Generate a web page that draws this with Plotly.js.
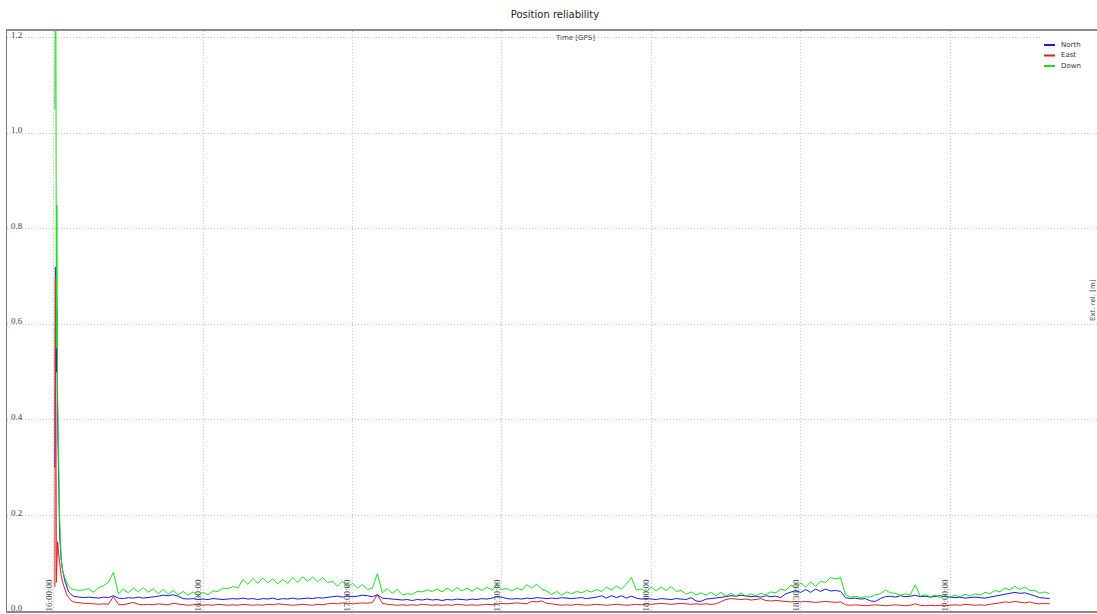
<!DOCTYPE html>
<html>
<head>
<meta charset="utf-8">
<script src="https://cdn.plot.ly/plotly-3.0.1.min.js"></script>
<style>html,body{margin:0;padding:0;background:#fff;}#chart{width:1097px;height:614px;}</style>
</head>
<body>
<div id="chart"></div>
<script>
// Sample times, minutes after 16:00:00 (GPS). Fine sampling at the start, then one per minute (7..200).
const headMinutes = [0.25, 0.35, 0.45, 0.55, 0.65, 0.8, 1.0, 1.2, 1.5, 1.8, 2.2, 2.6, 3.0, 3.5, 4, 5, 6];
const tailFirstMinute = 7;

const seriesNames = ["North", "East", "Down"];
const seriesColors = ["#1a1ad0", "#dd1f1f", "#1edc1e"];

// North (blue)
const northHead = [0.30, 0.72, 0.60, 0.50, 0.63, 0.40, 0.25, 0.16, 0.11, 0.085, 0.065, 0.05, 0.04, 0.035, 0.031, 0.029, 0.028];
const northTail = [
 .029,.028,.027,.029,.028,.032,.027,.026,.028,.027,
 .029,.027,.028,.030,.031,.033,.032,.034,.031,.026,
 .025,.026,.024,.025,.024,.026,.025,.024,.025,.026,
 .025,.027,.025,.026,.024,.026,.025,.027,.024,.026,
 .025,.027,.025,.026,.027,.026,.028,.027,.029,.030,
 .031,.029,.032,.030,.031,.033,.032,.030,.034,.027,
 .026,.025,.024,.023,.024,.022,.024,.023,.025,.023,
 .024,.022,.024,.023,.025,.024,.023,.025,.024,.026,
 .025,.027,.030,.029,.026,.025,.026,.025,.027,.026,
 .028,.027,.026,.027,.026,.028,.027,.026,.027,.028,
 .026,.027,.029,.032,.027,.032,.028,.032,.027,.031,
 .027,.025,.026,.025,.024,.026,.025,.024,.026,.025,
 .024,.028,.021,.020,.025,.026,.027,.028,.030,.032,
 .031,.033,.032,.030,.031,.029,.032,.030,.031,.028,
 .036,.040,.043,.039,.045,.039,.046,.041,.046,.042,
 .043,.041,.028,.026,.027,.025,.026,.021,.020,.026,
 .030,.031,.029,.032,.030,.031,.033,.030,.031,.029,
 .030,.032,.030,.029,.028,.029,.027,.028,.029,.028,
 .027,.029,.031,.034,.036,.038,.039,.037,.038,.035,
 .032,.028,.027,.026
];

// East (red)
const eastHead = [0.05, 0.70, 0.46, 0.06, 0.10, 0.145, 0.12, 0.095, 0.075, 0.06, 0.045, 0.035, 0.028, 0.022, 0.019, 0.017, 0.016];
const eastTail = [
 .016,.015,.014,.015,.014,.030,.014,.013,.015,.018,
 .014,.013,.014,.013,.015,.014,.013,.016,.015,.013,
 .012,.013,.014,.012,.013,.012,.014,.013,.012,.013,
 .012,.014,.013,.012,.013,.012,.014,.013,.015,.014,
 .013,.012,.013,.014,.013,.012,.014,.013,.015,.016,
 .015,.017,.016,.015,.016,.017,.016,.018,.034,.016,
 .014,.013,.012,.013,.012,.013,.012,.014,.013,.012,
 .013,.012,.013,.012,.014,.013,.012,.013,.012,.013,
 .014,.013,.015,.016,.015,.016,.017,.016,.015,.020,
 .019,.021,.016,.015,.013,.012,.013,.012,.014,.013,
 .012,.013,.014,.013,.012,.013,.014,.013,.012,.013,
 .014,.013,.015,.014,.015,.016,.015,.014,.015,.016,
 .015,.014,.015,.014,.015,.014,.015,.019,.024,.026,
 .025,.024,.025,.023,.024,.026,.022,.021,.022,.021,
 .020,.019,.020,.019,.020,.019,.018,.019,.020,.019,
 .018,.019,.013,.012,.013,.012,.011,.012,.013,.012,
 .011,.012,.013,.012,.011,.012,.015,.012,.011,.012,
 .011,.012,.011,.012,.013,.012,.014,.013,.012,.013,
 .012,.014,.015,.017,.019,.018,.020,.018,.017,.019,
 .016,.015,.016,.015
];

// Down (green)
const downHead = [1.05, 1.32, 1.25, 0.55, 0.85, 0.45, 0.30, 0.20, 0.11, 0.085, 0.07, 0.06, 0.052, 0.047, 0.045, 0.043, 0.044];
const downTail = [
 .047,.039,.049,.053,.060,.081,.036,.046,.038,.048,
 .040,.049,.039,.047,.036,.045,.035,.043,.034,.041,
 .033,.040,.032,.039,.034,.042,.041,.048,.047,.051,
 .048,.066,.056,.068,.058,.069,.059,.067,.057,.066,
 .058,.070,.060,.072,.062,.071,.061,.070,.060,.062,
 .052,.062,.050,.058,.048,.055,.045,.048,.078,.038,
 .047,.037,.045,.034,.036,.035,.041,.040,.044,.041,
 .046,.040,.048,.041,.049,.042,.048,.041,.049,.043,
 .050,.044,.054,.045,.047,.042,.048,.044,.055,.048,
 .056,.046,.042,.034,.041,.033,.040,.036,.041,.038,
 .043,.040,.045,.041,.050,.044,.052,.046,.056,.070,
 .044,.046,.041,.050,.042,.050,.043,.051,.041,.043,
 .035,.040,.034,.038,.033,.039,.032,.039,.031,.037,
 .030,.038,.031,.036,.032,.037,.034,.040,.038,.046,
 .043,.054,.048,.059,.050,.061,.052,.062,.060,.070,
 .067,.070,.034,.029,.031,.028,.030,.029,.034,.036,
 .044,.038,.037,.033,.036,.034,.055,.031,.034,.030,
 .033,.028,.032,.029,.033,.030,.035,.031,.036,.033,
 .039,.036,.043,.040,.048,.044,.052,.045,.050,.043,
 .043,.037,.040,.036
];

const yTicks = [0.0, 0.2, 0.4, 0.6, 0.8, 1.0, 1.2];

// ---- build ----
const tailMinutes = northTail.map((_, i) => tailFirstMinute + i);
const minutes = headMinutes.concat(tailMinutes);
function pad(n, w) { return String(n).padStart(w || 2, "0"); }
function toDate(m) {
  const d = new Date(Date.UTC(2020, 0, 1, 16, 0, 0) + Math.round(m * 60000));
  return d.getUTCFullYear() + "-" + pad(d.getUTCMonth() + 1) + "-" + pad(d.getUTCDate()) + " " +
    pad(d.getUTCHours()) + ":" + pad(d.getUTCMinutes()) + ":" + pad(d.getUTCSeconds());
}
const times = minutes.map(toDate);
const values = [northHead.concat(northTail), eastHead.concat(eastTail), downHead.concat(downTail)];

const traces = seriesNames.map((name, i) => ({
  type: "scatter", mode: "lines", name: name, x: times, y: values[i],
  line: {color: seriesColors[i], width: 1},
  showlegend: false, hoverinfo: "skip"
}));

const W = 1097, H = 614, L = 7, R = 0, T = 31, B = 3;
const pw = W - L - R, ph = H - T - B;
const px = v => (v - L) / pw;
const py = v => (H - B - v) / ph;

const shapes = [
  {type: "rect", xref: "paper", yref: "paper", x0: px(1040), x1: 1, y0: py(74), y1: py(33),
   fillcolor: "#ffffff", line: {width: 0}, layer: "above"}
];
const annotations = [
  {text: "Time [GPS]", xref: "paper", yref: "paper", x: px(575), y: py(38), xanchor: "center", yanchor: "middle",
   showarrow: false, font: {family: "DejaVu Sans", size: 7, color: "#444"}},
  {text: "Ext. rel. [m]", xref: "paper", yref: "paper", x: px(1093), y: py(300), xanchor: "center", yanchor: "middle",
   textangle: -90, showarrow: false, font: {family: "DejaVu Sans", size: 7, color: "#444"}}
];
seriesNames.forEach((name, i) => {
  const yy = 45 + i * 10.5;
  shapes.push({type: "line", xref: "paper", yref: "paper", x0: px(1044), x1: px(1055), y0: py(yy), y1: py(yy),
    line: {color: seriesColors[i], width: 2}, layer: "above"});
  annotations.push({text: name, xref: "paper", yref: "paper", x: px(1059), y: py(yy), xanchor: "left", yanchor: "middle",
    showarrow: false, font: {family: "DejaVu Sans", size: 7, color: "#333"}});
});

const layout = {
  width: W, height: H,
  margin: {l: L, r: R, t: T, b: B, pad: 0},
  paper_bgcolor: "#ffffff", plot_bgcolor: "#ffffff",
  title: {text: "Position reliability", font: {family: "DejaVu Sans", size: 10, color: "#222"},
    x: 555 / W, xanchor: "center", xref: "container", y: 1 - 14 / H, yanchor: "middle", yref: "container"},
  xaxis: {
    type: "date", range: [toDate(-9.36), toDate(209.5)],
    tick0: "2020-01-01 16:00:00", dtick: 1800000, tickformat: "%H:%M:%S",
    tickangle: -90, ticklabelposition: "outside", ticklabelshift: -5, ticklabelstandoff: -37, ticklabeloverflow: "allow",
    tickfont: {family: "Liberation Serif", size: 9, color: "#444"},
    ticks: "", showgrid: true, gridcolor: "#c4c4c4", griddash: "1px,2px", gridwidth: 1,
    showline: true, linecolor: "#8a8a8a", linewidth: 2, mirror: true, zeroline: false, fixedrange: true
  },
  yaxis: {
    range: [0, 1.214], tickvals: yTicks, tickformat: ".1f",
    ticklabelposition: "outside", ticklabelstandoff: -18, ticklabelshift: -3, ticklabeloverflow: "allow",
    tickfont: {family: "Liberation Serif", size: 9, color: "#444"},
    ticks: "", showgrid: true, gridcolor: "#c4c4c4", griddash: "1px,2px", gridwidth: 1,
    showline: true, linecolor: "#777", linewidth: 1, zeroline: false, fixedrange: true
  },
  shapes: shapes, annotations: annotations, showlegend: false
};

Plotly.newPlot("chart", traces, layout, {displayModeBar: false, staticPlot: true});
</script>
</body>
</html>
